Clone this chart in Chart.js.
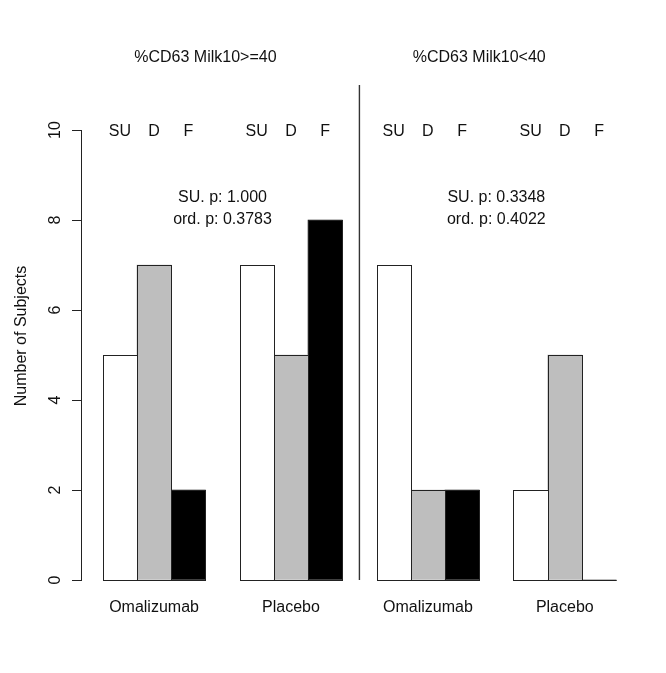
<!DOCTYPE html>
<html>
<head>
<meta charset="utf-8">
<script src="https://cdn.jsdelivr.net/npm/chart.js@4.4.1/dist/chart.umd.min.js"></script>
<style>
  html, body { margin: 0; padding: 0; background: #fff; }
  #wrap { width: 666px; height: 673px; }
</style>
</head>
<body>
<div id="wrap"><canvas id="chart" width="666" height="673"></canvas></div>
<script>
        // Counts per outcome level, one entry per treatment group
        const groups = ['Omalizumab', 'Placebo', 'Omalizumab', 'Placebo'];
        const levels = ['SU', 'D', 'F'];
        const suCounts = [5, 7, 7, 2];
        const dCounts = [7, 5, 2, 5];
        const fCounts = [2, 8, 2, 0];
        const panelTitles = ['%CD63 Milk10>=40', '%CD63 Milk10<40'];
        const suPValues = ['1.000', '0.3348'];
        const ordPValues = ['0.3783', '0.4022'];
        const yTicks = [0, 2, 4, 6, 8, 10];

        const FONT = "'Liberation Sans', Arial, sans-serif";
        const TEXT = '#111';

        // bars sit side by side, one empty slot between groups
        function slot(g, k) { return g * 4 + 1 + k; }
        function series(values, k) {
            return values.map((v, g) => ({ x: slot(g, k), y: v }));
        }

        // outline every bar with a single 1px line (zero bars become a baseline)
        const outlines = {
            id: 'outlines',
            afterDatasetsDraw(chart) {
                const ctx = chart.ctx;
                ctx.save();
                ctx.strokeStyle = '#222';
                ctx.lineWidth = 1;
                chart.data.datasets.forEach((ds, i) => {
                    chart.getDatasetMeta(i).data.forEach(el => {
                        const p = el.getProps(['x', 'y', 'base', 'width'], true);
                        const l = Math.round(p.x - p.width / 2) + 0.5;
                        const r = Math.round(p.x + p.width / 2) + 0.5;
                        const t = Math.round(p.y) + 0.5;
                        const b = Math.round(p.base) + 0.5;
                        ctx.strokeRect(l, t, r - l, b - t);
                    });
                });
                ctx.restore();
            }
        };

        // panel titles, level letters, p-values, divider and y title
        const labels = {
            id: 'labels',
            afterDraw(chart) {
                const ctx = chart.ctx;
                const xs = chart.scales.x, ys = chart.scales.y;
                ctx.save();
                ctx.fillStyle = TEXT;
                ctx.font = '16px ' + FONT;
                ctx.textAlign = 'center';
                ctx.textBaseline = 'middle';

                panelTitles.forEach((t, i) => {
                    ctx.fillText(t, xs.getPixelForValue(3.5 + i * 8), ys.getPixelForValue(11.64) + 1);
                });

                groups.forEach((g, gi) => {
                    levels.forEach((lv, k) => {
                        ctx.fillText(lv, xs.getPixelForValue(slot(gi, k)), ys.getPixelForValue(10) + 2);
                    });
                });

                suPValues.forEach((p, i) => {
                    const cx = xs.getPixelForValue(4 + i * 8);
                    ctx.fillText('SU. p: ' + p, cx, ys.getPixelForValue(8.5));
                    ctx.fillText('ord. p: ' + ordPValues[i], cx, ys.getPixelForValue(8.5) + 22);
                });

                ctx.strokeStyle = '#333';
                ctx.lineWidth = 1.4;
                const dx = xs.getPixelForValue(8);
                ctx.beginPath();
                ctx.moveTo(dx, ys.getPixelForValue(11));
                ctx.lineTo(dx, ys.getPixelForValue(0));
                ctx.stroke();

                ctx.translate(22, 336);
                ctx.rotate(-Math.PI / 2);
                ctx.fillText('Number of Subjects', 0, 0);
                ctx.restore();
            }
        };

        new Chart(document.getElementById('chart').getContext('2d'), {
            type: 'bar',
            data: {
                datasets: [
                    { label: 'SU', data: series(suCounts, 0), backgroundColor: '#ffffff' },
                    { label: 'D', data: series(dCounts, 1), backgroundColor: '#bebebe' },
                    { label: 'F', data: series(fCounts, 2), backgroundColor: '#000000' }
                ]
            },
            options: {
                responsive: false,
                animation: false,
                layout: { padding: { top: 130, right: 30, left: 0, bottom: 0 } },
                datasets: {
                    bar: { grouped: false, barPercentage: 1, categoryPercentage: 1, borderWidth: 0 }
                },
                scales: {
                    x: {
                        type: 'linear',
                        offset: false,
                        min: -0.134,
                        max: 16.08,
                        grid: { display: false, drawTicks: false, offset: false },
                        border: { display: false },
                        afterBuildTicks: s => { s.ticks = groups.map((g, i) => ({ value: slot(i, 1) })); },
                        afterFit: s => { s.height = 93; },
                        ticks: {
                            autoSkip: false,
                            maxRotation: 0,
                            padding: 18,
                            color: TEXT,
                            font: { size: 16, family: FONT },
                            callback: v => groups[(v - 2) / 4]
                        }
                    },
                    y: {
                        min: 0,
                        max: 10,
                        afterBuildTicks: s => { s.ticks = yTicks.map(v => ({ value: v })); },
                        afterFit: s => { s.width = 81; },
                        grid: { drawOnChartArea: false, tickLength: 9, color: '#222' },
                        border: { color: '#222' },
                        ticks: {
                            minRotation: 90,
                            maxRotation: 90,
                            crossAlign: 'center',
                            padding: 7.5,
                            color: TEXT,
                            font: { size: 16, family: FONT }
                        }
                    }
                },
                plugins: {
                    legend: { display: false },
                    tooltip: { enabled: false }
                }
            },
            plugins: [outlines, labels]
        });
</script>
</body>
</html>
